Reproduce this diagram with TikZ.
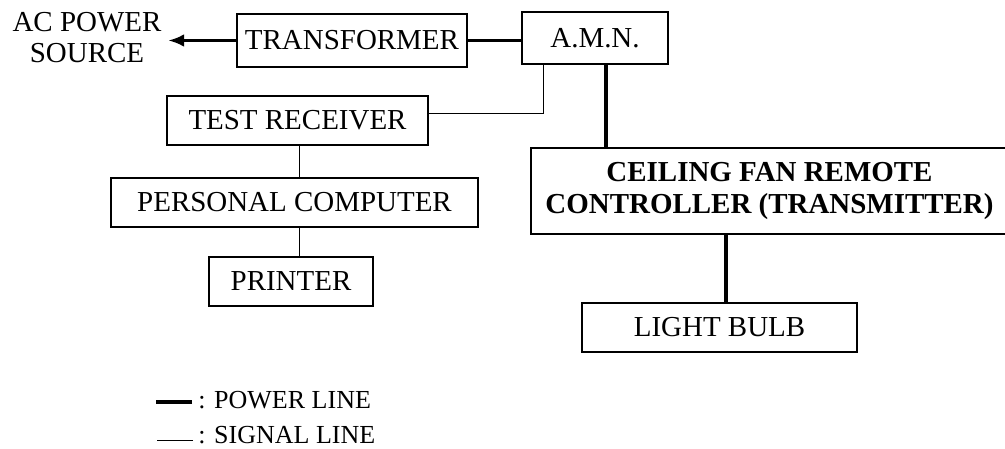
\documentclass[tikz,border=0pt]{standalone}
\usepackage{fontspec}
\setmainfont{Liberation Serif}
\usetikzlibrary{calc,arrows.meta}

\begin{document}
\begin{tikzpicture}[
  box/.style={draw,line width=0.8pt,inner sep=0pt,align=center,font=\fontsize{20.6}{22}\selectfont},
  pwr/.style={line width=2.6pt},
  sig/.style={line width=0.7pt},
  legtext/.style={anchor=base west,inner sep=0pt,font=\fontsize{18.5}{20}\selectfont}]
\useasboundingbox (0,0) rectangle (25.125,11.2);
\clip (0,0) rectangle (25.125,11.2);
% blocks
\node[align=center,inner sep=4.6pt,font=\fontsize{20.6}{22}\selectfont](src)at(2.175,10.2625){AC POWER\\SOURCE};
\node[box,minimum width=5.75cm,minimum height=1.325cm](tr)at(8.8,10.1875){TRANSFORMER};
\node[box,minimum width=3.65cm,minimum height=1.3cm](amn)at(14.875,10.25){A.M.N.};
\node[box,minimum width=6.525cm,minimum height=1.225cm](rx)at(7.4375,8.1875){TEST RECEIVER};
\node[box,minimum width=9.175cm,minimum height=1.225cm](pc)at(7.3625,6.1375){PERSONAL COMPUTER};
\node[box,minimum width=4.1cm,minimum height=1.225cm](prn)at(7.275,4.1625){PRINTER};
\node[box,minimum width=11.925cm,minimum height=2.15cm,font=\fontsize{20.6}{23}\selectfont\bfseries](cf)at(19.2375,6.425){CEILING FAN REMOTE\\CONTROLLER (TRANSMITTER)};
\node[box,minimum width=6.875cm,minimum height=1.225cm](bulb)at(17.9875,3.0125){LIGHT BULB};
% junctions
\coordinate(j1)at(15.15,0);
\coordinate(j2)at(13.575,8.375);
\coordinate(j3)at(7.475,0);
\coordinate(j4)at(18.15,0);
% power lines
\draw[pwr,-{Latex[length=0.4cm,width=0.32cm]}](tr.west)--(tr.west -| src.east);
\draw[pwr](tr.east)--(tr.east -| amn.west);
\draw[pwr](amn.south -| j1)--(cf.north -| j1);
\draw[pwr](cf.south -| j4)--(bulb.north -| j4);
% signal lines
\draw[sig](amn.south -| j2)|-(rx.east |- j2);
\draw[sig](rx.south -| j3)--(pc.north -| j3);
\draw[sig](pc.south -| j3)--(prn.north -| j3);
% legend
\node[legtext](lpwr)at(4.95,1.0){: POWER LINE};
\node[legtext](lsig)at(4.95,0.125){: SIGNAL LINE};
\draw[pwr]($(lpwr.base west)+(-0.15,0.15)$)--++(-0.9,0);
\draw[sig]($(lsig.base west)+(-0.125,0.075)$)--++(-0.9,0);
\end{tikzpicture}
\end{document}
